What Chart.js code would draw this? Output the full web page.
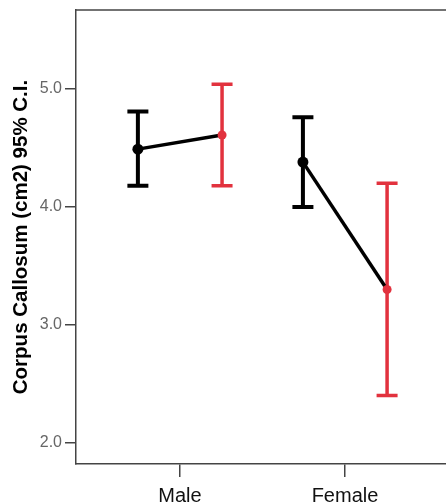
<!DOCTYPE html>
<html>
<head>
<meta charset="utf-8">
<script src="https://cdn.jsdelivr.net/npm/chart.js@4/dist/chart.umd.min.js"></script>
<style>
html,body{margin:0;padding:0;background:#fff;}
canvas{display:block;}
</style>
</head>
<body>
<canvas id="c" width="446" height="503"></canvas>
<script>
const categories = ['Male', 'Female'];
const meanBlack = [4.49, 4.38];
const lowBlack  = [4.18, 4.00];
const highBlack = [4.81, 4.76];
const meanRed   = [4.61, 3.30];
const lowRed    = [4.18, 2.40];
const highRed   = [5.04, 4.20];
const yTicks    = [2.0, 3.0, 4.0, 5.0];

const BLACK = '#000000';
const RED = '#e2323e';
const AXIS = '#444444';
const OFF = 0.255;

const datasets = categories.map((c, i) => ({
  label: c,
  data: [{x: i + 1 - OFF, y: meanBlack[i]}, {x: i + 1 + OFF, y: meanRed[i]}],
  borderColor: BLACK,
  borderWidth: 3.5,
  pointBackgroundColor: [BLACK, RED],
  pointBorderColor: [BLACK, RED],
  pointRadius: [5.5, 4.5],
  pointBorderWidth: 0,
  tension: 0,
  fill: false
}));

const errorBars = {
  id: 'errorBars',
  beforeDatasetsDraw(chart) {
    const {ctx, scales: {x, y}} = chart;
    ctx.save();
    ctx.lineCap = 'butt';
    const draw = (xv, lo, hi, color, w) => {
      const px = x.getPixelForValue(xv);
      const pl = y.getPixelForValue(lo), ph = y.getPixelForValue(hi);
      ctx.strokeStyle = color;
      ctx.lineWidth = w;
      ctx.beginPath();
      ctx.moveTo(px, pl); ctx.lineTo(px, ph);
      ctx.moveTo(px - 10.5, pl); ctx.lineTo(px + 10.5, pl);
      ctx.moveTo(px - 10.5, ph); ctx.lineTo(px + 10.5, ph);
      ctx.stroke();
    };
    categories.forEach((c, i) => {
      draw(i + 1 - OFF, lowBlack[i], highBlack[i], BLACK, 4);
      draw(i + 1 + OFF, lowRed[i], highRed[i], RED, 3.5);
    });
    ctx.restore();
  },
  afterDraw(chart) {
    const {ctx, chartArea: a} = chart;
    ctx.save();
    ctx.strokeStyle = AXIS;
    ctx.lineWidth = 1.5;
    ctx.beginPath();
    ctx.moveTo(a.left, a.top); ctx.lineTo(a.right, a.top);
    ctx.stroke();
    ctx.restore();
  }
};

new Chart(document.getElementById('c'), {
  type: 'line',
  data: {datasets},
  options: {
    responsive: false,
    animation: false,
    layout: {autoPadding: false, padding: {top: 10, right: 0, left: 0, bottom: 0}},
    plugins: {legend: {display: false}, tooltip: {enabled: false}},
    scales: {
      x: {
        type: 'linear',
        min: 0.37, max: 2.612,
        afterFit(s) { s.height = 39; s.paddingLeft = 0; s.paddingRight = 0; },
        afterBuildTicks(s) { s.ticks = categories.map((c, i) => ({value: i + 1})); },
        ticks: {
          callback: (v) => categories[v - 1] ?? '',
          color: '#111',
          font: {family: 'Liberation Sans, Arial', size: 20},
          padding: 7,
          maxRotation: 0,
          autoSkip: false
        },
        grid: {display: true, drawOnChartArea: false, drawTicks: true, tickLength: 13, color: AXIS, lineWidth: 1.5},
        border: {display: true, color: AXIS, width: 1.5}
      },
      y: {
        type: 'linear',
        min: 1.82, max: 5.67,
        afterFit(s) { s.width = 76; s.paddingTop = 0; s.paddingBottom = 0; },
        afterBuildTicks(s) { s.ticks = yTicks.map(v => ({value: v})); },
        ticks: {
          callback: (v) => v.toFixed(1),
          color: '#666',
          font: {family: 'Liberation Sans, Arial', size: 16},
          padding: 3
        },
        grid: {display: true, drawOnChartArea: false, drawTicks: true, tickLength: 11, color: AXIS, lineWidth: 1.5},
        border: {display: true, color: AXIS, width: 1.5},
        title: {
          display: true,
          text: 'Corpus Callosum (cm2) 95% C.I.',
          color: '#000',
          font: {family: 'Liberation Sans, Arial', size: 20.5, weight: 'bold'},
          padding: {top: 9, bottom: 0}
        }
      }
    }
  },
  plugins: [errorBars]
});
</script>
</body>
</html>
